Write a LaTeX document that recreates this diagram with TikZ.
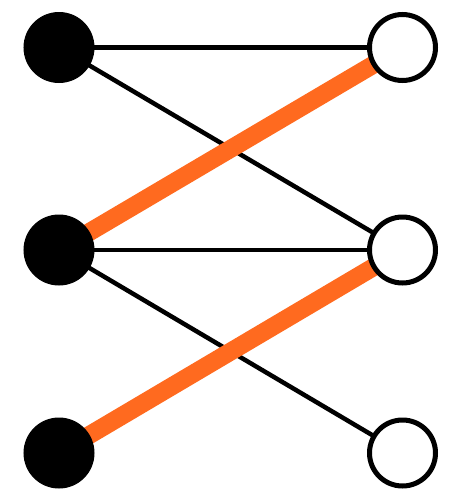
\documentclass[tikz,border=0pt]{standalone}
\definecolor{myorange}{HTML}{FF6A1F}
\tikzset{
  leftnode/.style={circle,fill=black,draw=black,line width=1pt,minimum size=70pt,inner sep=0pt},
  rightnode/.style={circle,fill=white,draw=black,line width=5pt,minimum size=66pt,inner sep=0pt},
  thinedge/.style={draw=black,line width=4.5pt},
  thickedge/.style={draw=myorange,line width=18pt}
}
\begin{document}
\begin{tikzpicture}[x=1pt,y=-1pt]
\useasboundingbox (0,0) rectangle (451,490);
\coordinate (l1c) at (59,47.5);
\coordinate (l2c) at (59,250);
\coordinate (l3c) at (59,453);
\coordinate (r1c) at (402.5,47.5);
\coordinate (r2c) at (402.5,250);
\coordinate (r3c) at (402.5,453);
\path[thinedge] (l1c) -- (r1c);
\path[thinedge] (l1c) -- (r2c);
\path[thinedge] (l2c) -- (r2c);
\path[thinedge] (l2c) -- (r3c);
\path[thickedge] (l2c) -- (r1c);
\path[thickedge] (l3c) -- (r2c);
\node[leftnode] (l1) at (l1c) {};
\node[leftnode] (l2) at (l2c) {};
\node[leftnode] (l3) at (l3c) {};
\node[rightnode] (r1) at (r1c) {};
\node[rightnode] (r2) at (r2c) {};
\node[rightnode] (r3) at (r3c) {};
\end{tikzpicture}
\end{document}
